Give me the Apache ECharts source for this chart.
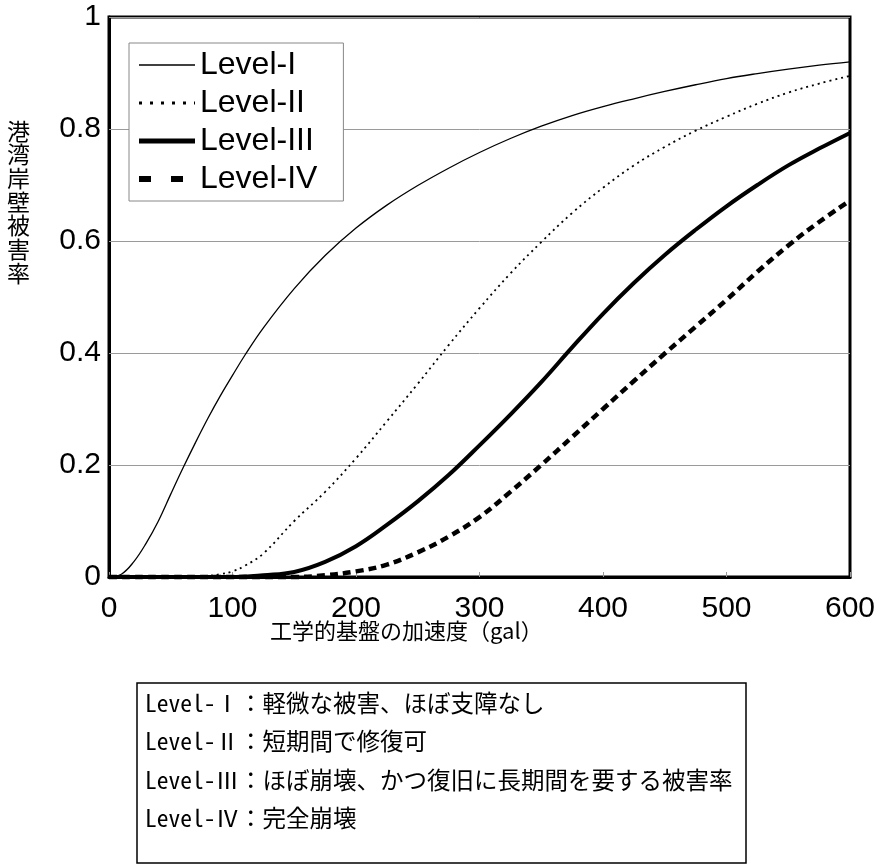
<!DOCTYPE html>
<html>
<head>
<meta charset="utf-8">
<script src="https://cdn.jsdelivr.net/npm/echarts@6/dist/echarts.min.js"></script>
<style>
html,body{margin:0;padding:0;background:#fff;}
#main{width:881px;height:868px;}
</style>
</head>
<body>
<div id="main"></div>
<script>
// Acceleration (gal) sample points
var accel = [0, 10, 20, 30, 40, 50, 60, 70, 80, 90, 100, 110, 125, 150, 175, 200, 225, 250, 275, 300, 325, 350, 375, 400, 425, 450, 475, 500, 525, 550, 575, 600];
// Damage ratio for each level
var level1 = [0, 0.005, 0.027, 0.06, 0.1, 0.148, 0.195, 0.24, 0.283, 0.323, 0.36, 0.396, 0.445, 0.515, 0.574, 0.623, 0.664, 0.699, 0.73, 0.758, 0.783, 0.805, 0.824, 0.84, 0.854, 0.867, 0.879, 0.89, 0.899, 0.907, 0.914, 0.92];
var level2 = [0, 0, 0, 0, 0, 0, 0, 0, 0.002, 0.005, 0.01, 0.02, 0.042, 0.10, 0.152, 0.212, 0.278, 0.345, 0.414, 0.48, 0.542, 0.598, 0.65, 0.695, 0.735, 0.768, 0.797, 0.822, 0.845, 0.865, 0.881, 0.895];
var level3 = [0, 0, 0, 0, 0, 0, 0, 0, 0, 0, 0, 0.001, 0.003, 0.009, 0.027, 0.055, 0.093, 0.135, 0.182, 0.235, 0.29, 0.348, 0.41, 0.47, 0.525, 0.575, 0.62, 0.662, 0.70, 0.735, 0.765, 0.793];
var level4 = [0, 0, 0, 0, 0, 0, 0, 0, 0, 0, 0, 0, 0, 0, 0.003, 0.01, 0.022, 0.044, 0.072, 0.107, 0.152, 0.20, 0.25, 0.3, 0.35, 0.399, 0.447, 0.495, 0.545, 0.592, 0.634, 0.672];
var seriesNames = ['Level-I', 'Level-II', 'Level-III', 'Level-IV'];
var xTicks = [0, 100, 200, 300, 400, 500, 600];
var yTicks = [0, 0.2, 0.4, 0.6, 0.8, 1];
var yTitle = '港湾岸壁被害率';
var xTitle = '工学的基盤の加速度（gal）';
var descLines = [
  'Level-Ⅰ：軽微な被害、ほぼ支障なし',
  'Level-Ⅱ：短期間で修復可',
  'Level-Ⅲ：ほぼ崩壊、かつ復旧に長期間を要する被害率',
  'Level-Ⅳ：完全崩壊'
];

function pairs(ys) { return accel.map(function (x, i) { return [x, ys[i]]; }); }

var chart = echarts.init(document.getElementById('main'), null, {renderer: 'canvas'});
var latin = 'Liberation Sans, Arial, sans-serif';
var jp = '"Noto Sans CJK JP", sans-serif';
var mono = '"Noto Sans Mono CJK JP", "Noto Sans CJK JP", monospace';

var styles = [
  {width: 1.3, type: 'solid'},
  {width: 1.8, type: [2, 4]},
  {width: 4, type: 'solid'},
  {width: 4.5, type: [8, 5]}
];
var legendStyles = [
  {width: 1.6, type: 'solid'},
  {width: 3, type: [3, 8]},
  {width: 5, type: 'solid'},
  {width: 6, type: [12, 20]}
];
var allData = [level1, level2, level3, level4];

var option = {
  animation: false,
  backgroundColor: '#fff',
  grid: {left: 109, right: 31, top: 17, bottom: 291, show: true, borderColor: '#000', borderWidth: 3, backgroundColor: 'transparent'},
  legend: {
    orient: 'vertical', left: 129, top: 43,
    backgroundColor: '#fff', borderColor: '#888', borderWidth: 1,
    padding: [6, 26, 6, 7],
    itemWidth: 56, itemHeight: 14, itemGap: 6,
    textStyle: {fontSize: 32, fontFamily: latin, color: '#000', lineHeight: 32},
    itemStyle: {color: 'rgba(0,0,0,0)', borderWidth: 0, opacity: 0},
    data: seriesNames.map(function (n, i) {
      return {name: n, itemStyle: {color: 'rgba(0,0,0,0)', borderWidth: 0, opacity: 0},
        lineStyle: {color: '#000', width: legendStyles[i].width, type: legendStyles[i].type, opacity: 1}};
    })
  },
  xAxis: {
    type: 'value', min: 0, max: 600, interval: 100,
    axisLine: {show: true, lineStyle: {color: '#000', width: 3}},
    axisTick: {show: true, inside: true, length: 5, lineStyle: {color: '#999', width: 1}},
    axisLabel: {fontSize: 30, fontFamily: latin, color: '#000', margin: 17,
      formatter: function (v) { return xTicks.indexOf(v) >= 0 ? String(v) : ''; }},
    splitLine: {show: false}
  },
  yAxis: {
    type: 'value', min: 0, max: 1, interval: 0.2,
    axisLine: {show: true, lineStyle: {color: '#000', width: 3}},
    axisTick: {show: true, inside: true, length: 5, lineStyle: {color: '#999', width: 1}},
    axisLabel: {fontSize: 30, fontFamily: latin, color: '#000', margin: 8,
      formatter: function (v) {
        var r = Math.round(v * 10) / 10;
        return (r === 0 || r === 1) ? String(r) : r.toFixed(1);
      }},
    splitLine: {show: true, lineStyle: {color: '#9a9a9a', width: 1}}
  },
  series: seriesNames.map(function (n, i) {
    return {
      name: n, type: 'line', data: pairs(allData[i]),
      smooth: 0.4, symbol: 'none', clip: false,
      lineStyle: {color: '#000', width: styles[i].width, type: styles[i].type},
      itemStyle: {color: '#000'},
      z: 3 + i
    };
  }),
  graphic: [
    {type: 'text', left: 7, top: 119, z: 10,
      style: {text: yTitle.split('').join('\n'), font: '23px ' + jp, lineHeight: 23.7, fill: '#000'}},
    {type: 'text', left: 270, top: 620, z: 10,
      style: {text: xTitle, font: '22px ' + jp, fill: '#000'}},
    {type: 'rect', z: 10, shape: {x: 137, y: 683, width: 609, height: 180},
      style: {fill: 'none', stroke: '#000', lineWidth: 1.5}}
  ].concat(descLines.map(function (t, i) {
    return {type: 'text', x: 145, y: 703 + i * 38.3, z: 10,
      style: {text: t, font: '23.5px ' + mono, fill: '#000', verticalAlign: 'middle'}};
  }))
};
chart.setOption(option);
</script>
</body>
</html>
